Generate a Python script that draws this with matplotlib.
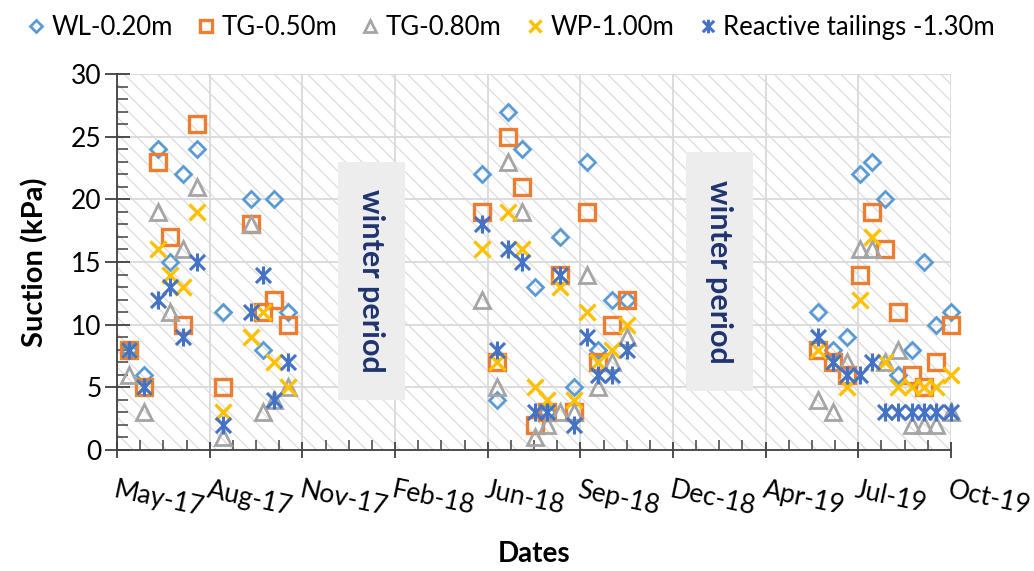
import pandas as pd
import numpy as np
import matplotlib
matplotlib.use("Agg")
import matplotlib.pyplot as plt
import matplotlib.dates as mdates
from matplotlib.patches import Rectangle
from matplotlib.path import Path

plt.rcParams['font.family'] = ['Lato', 'DejaVu Sans']
plt.rcParams['hatch.linewidth'] = 0.9

# sampling dates (three monitoring seasons)
dates = pd.to_datetime([
    "2017-05-14", "2017-05-30", "2017-06-14", "2017-06-27", "2017-07-11", "2017-07-26",
    "2017-08-23", "2017-09-23", "2017-10-06", "2017-10-17", "2017-11-02",
    "2018-05-30", "2018-06-15", "2018-06-27", "2018-07-12", "2018-07-26", "2018-08-08",
    "2018-08-22", "2018-09-06", "2018-09-20", "2018-10-02", "2018-10-17", "2018-11-02",
    "2019-05-27", "2019-06-13", "2019-06-28", "2019-07-12", "2019-07-25", "2019-08-08",
    "2019-08-22", "2019-09-06", "2019-09-19", "2019-10-02", "2019-10-18",
])

# suction (kPa)
wl_020 = [8, 6, 24, 15, 22, 24, 11, 20, 8, 20, 11,
          22, 4, 27, 24, 13, 3, 17, 5, 23, 8, 12, 12,
          11, 8, 9, 22, 23, 20, 6, 8, 15, 10, 11]
tg_050 = [8, 5, 23, 17, 10, 26, 5, 18, 11, 12, 10,
          19, 7, 25, 21, 2, 3, 14, 3, 19, 7, 10, 12,
          8, 7, 6, 14, 19, 16, 11, 6, 5, 7, 10]
tg_080 = [6, 3, 19, 11, 16, 21, 1, 18, 3, 4, 5,
          12, 5, 23, 19, 1, 2, 3, 3, 14, 5, 7, 9,
          4, 3, 7, 16, 16, 7, 8, 2, 2, 2, 3]
wp_100 = [8, 5, 16, 14, 13, 19, 3, 9, 11, 7, 5,
          16, 7, 19, 16, 5, 4, 13, 4, 11, 7, 8, 10,
          8, 7, 5, 12, 17, 7, 5, 5, 5, 5, 6]
rt_130 = [8, 5, 12, 13, 9, 15, 2, 11, 14, 4, 7,
          18, 8, 16, 15, 3, 3, 14, 2, 9, 6, 6, 8,
          9, 7, 6, 6, 7, 3, 3, 3, 3, 3, 3]

winters = [("2017-12-25", "2018-03-08", 4.0, 23.0),
           ("2019-01-05", "2019-03-18", 4.7, 23.8)]

# x + vertical bar, like the spreadsheet "star" marker
star = Path([(-1, -1), (1, 1), (-1, 1), (1, -1), (0, -1.2), (0, 1.2)],
            [Path.MOVETO, Path.LINETO, Path.MOVETO, Path.LINETO, Path.MOVETO, Path.LINETO])

series = [
    ("WL-0.20m", wl_020, dict(marker='D', ms=8, mew=2.0, color='#5B9BD5', mfc='none')),
    ("TG-0.50m", tg_050, dict(marker='s', ms=12, mew=2.4, color='#ED7D31', mfc='none')),
    ("TG-0.80m", tg_080, dict(marker='^', ms=12, mew=2.0, color='#A5A5A5', mfc='none')),
    ("WP-1.00m", wp_100, dict(marker='x', ms=11, mew=2.4, color='#FFC000')),
    ("Reactive tailings -1.30m", rt_130, dict(marker=star, ms=13, mew=2.2, color='#4472C4')),
]

fig = plt.figure(figsize=(10.34, 5.71), dpi=100)
ax = fig.add_axes([0.1132, 0.2119, 0.8065, 0.6585])

start = pd.Timestamp("2017-05-01")
ax.set_xlim(start, start + pd.Timedelta(days=900))
ax.set_ylim(0, 30)

# light diagonal hatch on the plot area
ax.patch.set_hatch('\\\\')
ax.patch.set_edgecolor('#dcdcdc')
ax.patch.set_linewidth(0)

ax.grid(True, which='major', color='#d9d9d9', lw=1.3, zorder=1)
ax.set_axisbelow(True)

for x0, x1, y0, y1 in winters:
    a = mdates.date2num(pd.Timestamp(x0))
    b = mdates.date2num(pd.Timestamp(x1))
    ax.add_patch(Rectangle((a, y0), b - a, y1 - y0, facecolor='#ededed',
                           edgecolor='none', zorder=2))
    ax.text((a + b) / 2, (y0 + y1) / 2, "winter period", rotation=-90,
            ha='center', va='center', fontsize=22, fontweight='bold',
            color='#1f3470', zorder=3)

handles = []
for name, vals, kw in series:
    h, = ax.plot(dates, vals, ls='none', label=name, clip_on=False, zorder=4, **kw)
    handles.append(h)

major = [start + pd.Timedelta(days=100 * i) for i in range(10)]
minor = [start + pd.Timedelta(days=25 * i) for i in range(37)]
ax.set_xticks(major)
ax.set_xticks(minor, minor=True)
ax.set_xticklabels([d.strftime('%b-%y') for d in major], rotation=-12,
                   ha='left', va='top', rotation_mode='anchor')
ax.set_yticks(np.arange(0, 31, 5))
ax.set_yticks(np.arange(0, 31, 1), minor=True)

ax.tick_params(axis='x', which='major', direction='inout', length=12, width=1.3,
               color='#404040', labelsize=19, pad=14)
ax.tick_params(axis='x', which='minor', direction='in', length=7, width=1.1, color='#404040')
ax.tick_params(axis='y', which='major', direction='inout', length=18, width=1.3,
               color='#404040', labelsize=19, pad=2)
ax.tick_params(axis='y', which='minor', direction='in', length=8, width=1.1, color='#404040')

for s in ['top', 'right']:
    ax.spines[s].set_visible(False)
for s in ['left', 'bottom']:
    ax.spines[s].set_color('#404040')
    ax.spines[s].set_linewidth(1.3)

ax.set_ylabel("Suction (kPa)", fontsize=21, fontweight='bold', labelpad=16)
ax.set_xlabel("Dates", fontsize=20, fontweight='bold', labelpad=14)

fig.legend(handles=handles, loc='upper center', bbox_to_anchor=(0.492, 1.015), ncol=5,
           frameon=False, fontsize=18.5, handletextpad=0.1, columnspacing=0.8,
           handlelength=1.0, markerscale=0.75)

fig.savefig("out.png", dpi=100)
